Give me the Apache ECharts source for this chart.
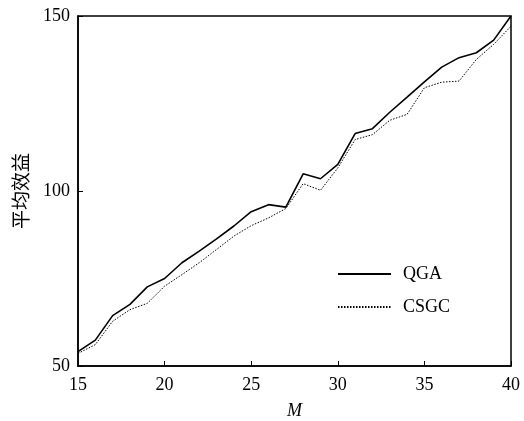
<!DOCTYPE html>
<html>
<head>
<meta charset="utf-8">
<script src="https://cdn.jsdelivr.net/npm/echarts@6/dist/echarts.min.js"></script>
<style>html,body{margin:0;padding:0;background:#fff}#c{width:524px;height:421px}</style>
</head>
<body>
<div id="c"></div>
<script>
var M = [15,16,17,18,19,20,21,22,23,24,25,26,27,28,29,30,31,32,33,34,35,36,37,38,39,40];
var QGA = [54.1,57.4,64.4,67.6,72.6,75.0,79.5,82.8,86.3,90.0,94.1,96.1,95.4,104.9,103.5,107.6,116.4,117.8,122.5,126.8,131.2,135.4,138.1,139.5,143.1,150.0];
var CSGC = [53.6,56.1,62.8,66.1,67.9,72.8,76.1,79.5,83.3,87.1,90.1,92.3,95.0,102.1,100.2,106.6,114.7,116.1,120.2,121.9,129.5,131.1,131.4,137.6,141.9,147.1];
var xTicks = [15,20,25,30,35,40];
var yTicks = [50,100,150];
var seriesNames = ['QGA','CSGC'];

function pairs(xs, ys){ return xs.map(function(x,i){ return [x, ys[i]]; }); }

var serif = '"Liberation Serif","DejaVu Serif",serif';
var chart = echarts.init(document.getElementById('c'));
chart.setOption({
  animation: false,
  backgroundColor: '#fff',
  grid: {left: 78, right: 13, top: 16, bottom: 55, show: true, borderColor: '#000', borderWidth: 1.5,
    backgroundColor: 'transparent', containLabel: false, outerBoundsMode: 'none'},
  legend: {
    orient: 'vertical', left: 332, top: 260, itemWidth: 53, itemHeight: 16, itemGap: 15,
    itemStyle: {opacity: 0},
    textStyle: {fontFamily: serif, fontSize: 18, color: '#000', padding: [0,0,0,7]},
    data: seriesNames
  },
  xAxis: {
    type: 'value', min: 15, max: 40, interval: 5,
    name: 'M', nameLocation: 'middle', nameGap: 36,
    nameTextStyle: {fontFamily: serif, fontStyle: 'italic', fontSize: 18, color: '#000'},
    axisLine: {show: true, lineStyle: {color: '#000', width: 1.5}},
    axisTick: {show: true, inside: true, length: 5, lineStyle: {color: '#000', width: 1}},
    axisLabel: {fontFamily: serif, fontSize: 18, color: '#000', margin: 10,
      formatter: function(v){ return xTicks.indexOf(v) >= 0 ? String(v) : ''; }},
    splitLine: {show: false}
  },
  yAxis: {
    type: 'value', min: 50, max: 150, interval: 50,
    name: '平均效益', nameLocation: 'middle', nameGap: 48, nameRotate: 90,
    nameTextStyle: {fontFamily: '"Noto Sans CJK SC",sans-serif', fontSize: 19, color: '#000'},
    axisLine: {show: true, lineStyle: {color: '#000', width: 1.5}},
    axisTick: {show: true, inside: true, length: 5, lineStyle: {color: '#000', width: 1}},
    axisLabel: {fontFamily: serif, fontSize: 18, color: '#000', margin: 8,
      formatter: function(v){ return yTicks.indexOf(v) >= 0 ? String(v) : ''; }},
    splitLine: {show: false}
  },
  series: [
    {name: seriesNames[0], type: 'line', data: pairs(M, QGA), symbol: 'none',
      lineStyle: {color: '#000', width: 1.6, type: 'solid'}, itemStyle: {color: '#000'}},
    {name: seriesNames[1], type: 'line', data: pairs(M, CSGC), symbol: 'none',
      lineStyle: {color: '#000', width: 1, type: [1.5, 1.5]}, itemStyle: {color: '#000'}}
  ]
});
</script>
</body>
</html>
